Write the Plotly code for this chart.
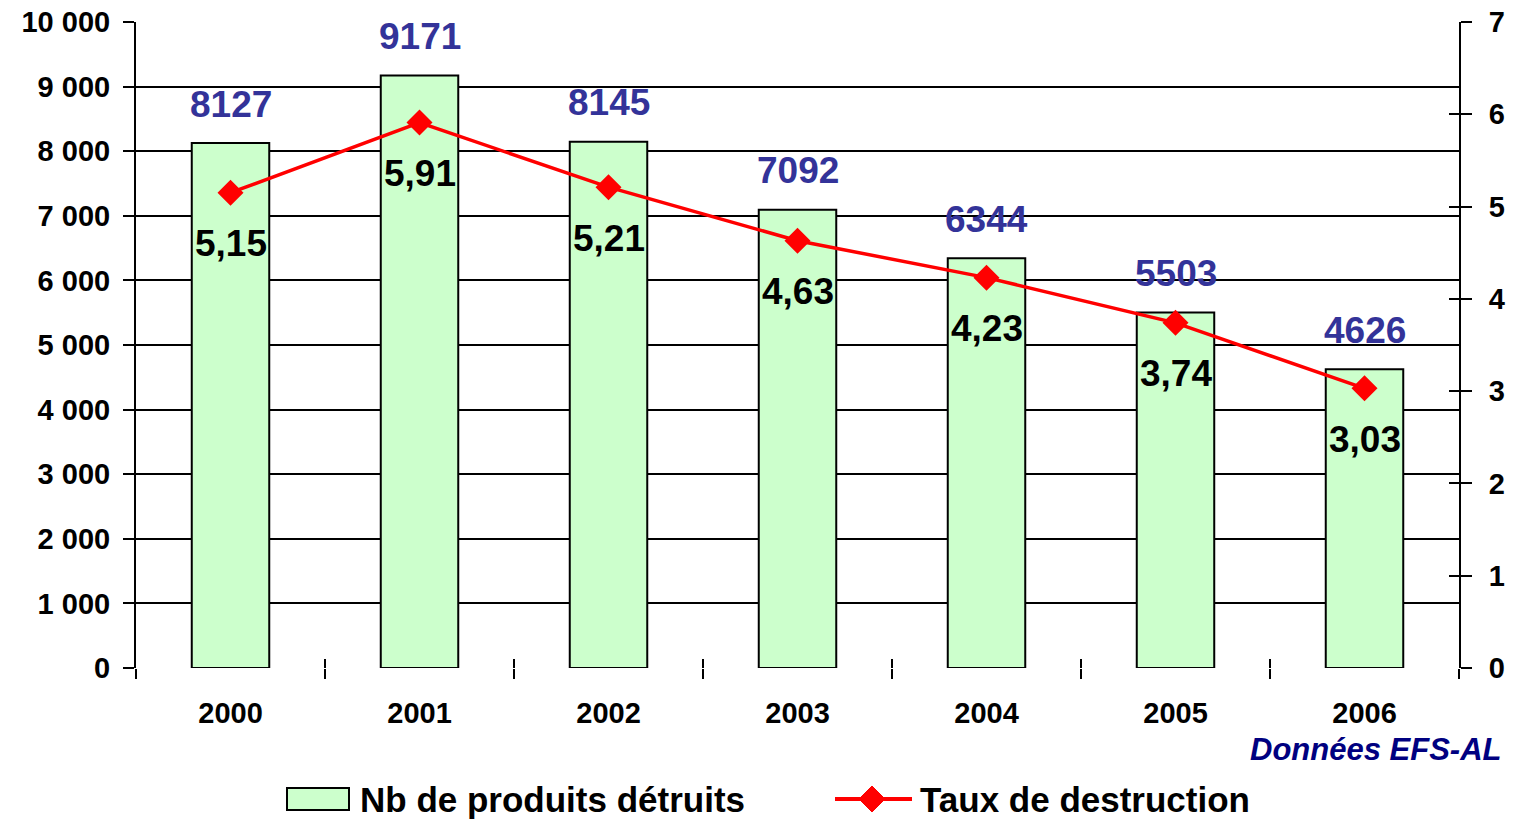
import plotly.graph_objects as go

years = ["2000", "2001", "2002", "2003", "2004", "2005", "2006"]
counts = [8127, 9171, 8145, 7092, 6344, 5503, 4626]
rates = [5.15, 5.91, 5.21, 4.63, 4.23, 3.74, 3.03]
rate_labels = ["5,15", "5,91", "5,21", "4,63", "4,23", "3,74", "3,03"]
left_ticks = [0, 1000, 2000, 3000, 4000, 5000, 6000, 7000, 8000, 9000, 10000]
left_tick_text = ["0", "1 000", "2 000", "3 000", "4 000", "5 000", "6 000",
                  "7 000", "8 000", "9 000", "10 000"]
right_ticks = [0, 1, 2, 3, 4, 5, 6, 7]
bar_name = "Nb de produits détruits"
line_name = "Taux de destruction"

FONT = "Arial, Liberation Sans, sans-serif"
BAR_FILL = "#CCFFCC"
RED = "#FF0000"

# plot-area geometry in pixels (for paper-coordinate conversions of legend items)
W, H = 1513, 821
L, R, T, B = 136, 54, 22, 153
PW, PH = W - L - R, H - T - B


def px(x):
    return (x - L) / PW


def py(y):
    return (H - B - y) / PH


fig = go.Figure()
fig.add_trace(go.Bar(
    x=years, y=counts, name=bar_name,
    marker=dict(color=BAR_FILL, line=dict(color="black", width=2)),
    width=0.41, hoverinfo="skip", showlegend=False))
fig.add_trace(go.Scatter(
    x=years, y=rates, yaxis="y2", name=line_name,
    mode="lines+markers",
    line=dict(color=RED, width=3.5),
    marker=dict(symbol="diamond", size=20, color=RED),
    hoverinfo="skip", showlegend=False))
# helper overlay trace for inside tick marks
fig.add_trace(go.Scatter(
    x=years, y=rates, xaxis="x2", yaxis="y3", mode="markers",
    marker=dict(opacity=0), showlegend=False, hoverinfo="skip"))

for i, c in enumerate(counts):
    fig.add_annotation(x=i, y=c, xref="x", yref="y", text="<b>%d</b>" % c,
                       showarrow=False, yshift=39,
                       font=dict(family=FONT, size=37, color="#333399"))
for i, (r, t) in enumerate(zip(rates, rate_labels)):
    fig.add_annotation(x=i, y=r, xref="x", yref="y2", text="<b>%s</b>" % t,
                       showarrow=False, yshift=-51,
                       font=dict(family=FONT, size=37, color="black"))

fig.add_annotation(x=px(1503), y=py(750), xref="paper", yref="paper",
                   xanchor="right", yanchor="middle", showarrow=False,
                   text="<b><i>Données EFS-AL</i></b>",
                   font=dict(family=FONT, size=31, color="#000080"))

# custom legend
LEG_Y = 799
fig.add_shape(type="rect", xref="paper", yref="paper",
              x0=px(287), x1=px(349), y0=py(LEG_Y + 11), y1=py(LEG_Y - 11),
              fillcolor=BAR_FILL, line=dict(color="black", width=2))
fig.add_annotation(x=px(358), y=py(LEG_Y), xref="paper", yref="paper",
                   xanchor="left", yanchor="middle", showarrow=False,
                   text="<b>%s</b>" % bar_name,
                   font=dict(family=FONT, size=35, color="black"))
fig.add_shape(type="line", xref="paper", yref="paper",
              x0=px(835), x1=px(912), y0=py(LEG_Y), y1=py(LEG_Y),
              line=dict(color=RED, width=4))
fig.add_shape(type="path", xref="paper", yref="paper",
              path="M %f %f L %f %f L %f %f L %f %f Z" % (
                  px(859), py(LEG_Y), px(872), py(LEG_Y - 13),
                  px(885), py(LEG_Y), px(872), py(LEG_Y + 13)),
              fillcolor=RED, line=dict(color=RED, width=1))
fig.add_annotation(x=px(918), y=py(LEG_Y), xref="paper", yref="paper",
                   xanchor="left", yanchor="middle", showarrow=False,
                   text="<b>%s</b>" % line_name,
                   font=dict(family=FONT, size=35, color="black"))

fig.update_layout(
    width=W, height=H,
    margin=dict(l=L, r=R, t=T, b=B, autoexpand=False),
    paper_bgcolor="white", plot_bgcolor="white",
    font=dict(family=FONT, color="black"),
    showlegend=False,
    xaxis=dict(type="category", categoryorder="array", categoryarray=years,
               range=[-0.5, 6.5], automargin=False,
               showline=False, showgrid=False, zeroline=False,
               ticks="outside", tickson="boundaries", ticklen=10,
               tickwidth=2, tickcolor="black", ticklabelstandoff=25,
               tickfont=dict(family=FONT, size=29, color="black", weight="bold")),
    xaxis2=dict(type="category", categoryorder="array", categoryarray=years,
                range=[-0.5, 6.5], overlaying="x", side="bottom",
                automargin=False,
                showline=False, showgrid=False, zeroline=False,
                ticks="inside", tickson="boundaries", ticklen=9,
                tickwidth=2, tickcolor="black", showticklabels=False),
    yaxis=dict(range=[0, 10000], tickvals=left_ticks, ticktext=left_tick_text,
               automargin=False,
               showline=True, linecolor="black", linewidth=2,
               showgrid=True, gridcolor="black", gridwidth=2,
               zeroline=False, ticks="outside", ticklen=11, tickwidth=2,
               tickcolor="black", ticklabelstandoff=7,
               tickfont=dict(family=FONT, size=29, color="black", weight="bold")),
    yaxis2=dict(range=[0, 7], tickvals=right_ticks, overlaying="y", side="right",
                automargin=False,
                showline=True, linecolor="black", linewidth=2,
                showgrid=False, zeroline=False,
                ticks="outside", ticklen=11, tickwidth=2, tickcolor="black",
                ticklabelstandoff=11,
                tickfont=dict(family=FONT, size=29, color="black", weight="bold")),
    yaxis3=dict(range=[0, 7], tickvals=right_ticks, overlaying="y", side="right",
                automargin=False,
                showline=False, showgrid=False, zeroline=False,
                ticks="inside", ticklen=10, tickwidth=2, tickcolor="black",
                showticklabels=False),
)

fig.write_html("out.html", config={"displayModeBar": False},
               post_script="document.body.style.margin='0px';")
